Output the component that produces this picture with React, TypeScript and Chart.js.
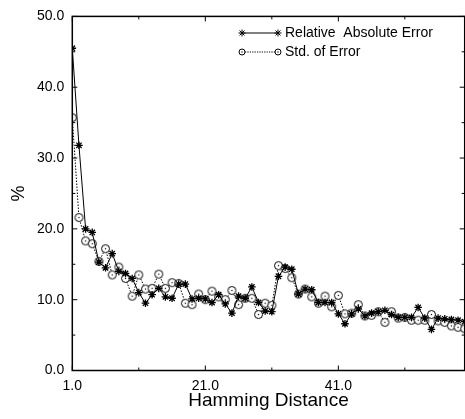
import React, { useEffect, useRef } from "react";
import { Chart, registerables } from "chart.js";

Chart.register(...registerables);

const hamming = [
  1, 2, 3, 4, 5, 6, 7, 8, 9, 10, 11, 12, 13, 14, 15, 16, 17, 18, 19, 20,
  21, 22, 23, 24, 25, 26, 27, 28, 29, 30, 31, 32, 33, 34, 35, 36, 37, 38, 39, 40,
  41, 42, 43, 44, 45, 46, 47, 48, 49, 50, 51, 52, 53, 54, 55, 56, 57, 58, 59, 60,
];

const relAbsError = [
  45.5, 31.8, 20.0, 19.5, 15.3, 14.5, 16.5, 14.0, 13.7, 13.0,
  11.0, 9.5, 10.7, 11.6, 10.4, 10.2, 12.2, 12.2, 10.1, 10.2,
  10.1, 9.6, 10.7, 9.4, 8.1, 10.5, 10.2, 11.8, 9.6, 8.4,
  8.3, 13.3, 14.6, 14.3, 10.8, 11.5, 11.4, 9.6, 9.6, 9.6,
  8.0, 6.6, 8.0, 8.7, 7.7, 8.1, 8.3, 8.5, 7.9, 7.5,
  7.5, 7.5, 8.9, 7.4, 5.8, 7.4, 7.3, 7.2, 7.1, 6.9,
];

const stdError = [
  35.7, 21.6, 18.3, 17.9, 15.4, 17.2, 13.5, 14.6, 13.0, 10.5,
  13.5, 11.5, 11.6, 13.6, 11.6, 12.4, 12.3, 9.5, 9.3, 10.8,
  10.0, 11.2, 10.4, 10.0, 11.3, 9.3, 10.2, 10.2, 7.9, 9.5,
  9.2, 14.8, 14.4, 13.1, 10.8, 11.5, 10.4, 9.5, 10.5, 9.0,
  10.6, 8.0, 8.1, 9.3, 7.7, 7.8, 8.3, 6.8, 8.3, 7.4,
  7.5, 7.1, 7.1, 7.1, 7.9, 7.0, 6.8, 6.3, 6.1, 5.9,
];

const seriesNames = ["Relative  Absolute Error", "Std. of Error"];
const xTickValues = [1, 21, 41];
const xMinorTicks = [11, 31, 51];
const yTickValues = [0, 10, 20, 30, 40, 50];
const yMinorTicks = [5, 15, 25, 35, 45];

const FONT = '"Liberation Sans", Arial, Helvetica, sans-serif';

function makeCircleStyle(r: number): HTMLCanvasElement {
  const size = Math.ceil(r * 2 + 3);
  const c = document.createElement("canvas");
  c.width = size;
  c.height = size;
  const ctx = c.getContext("2d")!;
  ctx.fillStyle = "#fff";
  ctx.strokeStyle = "#000";
  ctx.lineWidth = 1;
  ctx.beginPath();
  ctx.arc(size / 2, size / 2, r, 0, Math.PI * 2);
  ctx.fill();
  ctx.stroke();
  ctx.fillStyle = "#000";
  ctx.fillRect(size / 2 - 0.6, size / 2 - 0.6, 1.2, 1.2);
  return c;
}

function drawStar(ctx: CanvasRenderingContext2D, x: number, y: number, r: number) {
  ctx.beginPath();
  for (let i = 0; i < 4; i++) {
    const a = (i * Math.PI) / 4;
    ctx.moveTo(x - Math.cos(a) * r, y - Math.sin(a) * r);
    ctx.lineTo(x + Math.cos(a) * r, y + Math.sin(a) * r);
  }
  ctx.stroke();
}

const framePlugin = {
  id: "frame",
  afterDraw(chart: any) {
    const { ctx, chartArea: a, scales } = chart;
    const xs = scales.x;
    const ys = scales.y;
    ctx.save();
    ctx.strokeStyle = "#000";
    ctx.lineWidth = 1.5;
    ctx.strokeRect(a.left, a.top, a.right - a.left, a.bottom - a.top);
    ctx.lineWidth = 1;
    const tickX = (v: number, len: number) => {
      const px = xs.getPixelForValue(v);
      ctx.beginPath();
      ctx.moveTo(px, a.bottom);
      ctx.lineTo(px, a.bottom - len);
      ctx.moveTo(px, a.top);
      ctx.lineTo(px, a.top + len);
      ctx.stroke();
    };
    const tickY = (v: number, len: number) => {
      const py = ys.getPixelForValue(v);
      ctx.beginPath();
      ctx.moveTo(a.left, py);
      ctx.lineTo(a.left + len, py);
      ctx.moveTo(a.right, py);
      ctx.lineTo(a.right - len, py);
      ctx.stroke();
    };
    xTickValues.forEach((v) => tickX(v, 5));
    xMinorTicks.forEach((v) => tickX(v, 3));
    yTickValues.forEach((v) => tickY(v, 5));
    yMinorTicks.forEach((v) => tickY(v, 3));

    // legend
    const lx0 = 242;
    const lx1 = 278;
    const tx = 285;
    const r1 = 33;
    const r2 = 52;
    ctx.strokeStyle = "#000";
    ctx.lineWidth = 1;
    ctx.beginPath();
    ctx.moveTo(lx0, r1);
    ctx.lineTo(lx1, r1);
    ctx.stroke();
    ctx.lineWidth = 1;
    drawStar(ctx, lx0, r1, 3.5);
    drawStar(ctx, lx1, r1, 3.5);
    ctx.setLineDash([1.2, 1.2]);
    ctx.beginPath();
    ctx.moveTo(lx0 + 3, r2);
    ctx.lineTo(lx1 - 3, r2);
    ctx.stroke();
    ctx.setLineDash([]);
    [lx0, lx1].forEach((cx) => {
      ctx.beginPath();
      ctx.arc(cx, r2, 3, 0, Math.PI * 2);
      ctx.fillStyle = "#fff";
      ctx.fill();
      ctx.stroke();
      ctx.fillStyle = "#000";
      ctx.fillRect(cx - 0.6, r2 - 0.6, 1.2, 1.2);
    });
    ctx.fillStyle = "#000";
    ctx.font = `14px ${FONT}`;
    ctx.textBaseline = "middle";
    ctx.textAlign = "left";
    ctx.fillText(seriesNames[0], tx, r1);
    ctx.fillText(seriesNames[1], tx, r2);
    ctx.restore();
  },
};

export default function App() {
  const ref = useRef<HTMLCanvasElement | null>(null);

  useEffect(() => {
    if (!ref.current) return;
    const circleStyle = makeCircleStyle(4);
    const chart = new Chart(ref.current, {
      type: "line",
      data: {
        datasets: [
          {
            label: seriesNames[0],
            data: hamming.map((h, i) => ({ x: h, y: relAbsError[i] })),
            borderColor: "#000",
            borderWidth: 1,
            pointStyle: "star",
            pointRadius: 3.8,
            pointBorderWidth: 1.3,
            pointBorderColor: "#000",
            pointBackgroundColor: "#000",
            tension: 0,
            fill: false,
          },
          {
            label: seriesNames[1],
            data: hamming.map((h, i) => ({ x: h, y: stdError[i] })),
            borderColor: "#000",
            borderWidth: 1,
            borderDash: [1.5, 1.5],
            pointStyle: circleStyle as any,
            pointRadius: 4,
            tension: 0,
            fill: false,
          },
        ],
      },
      options: {
        responsive: false,
        maintainAspectRatio: false,
        devicePixelRatio: 1,
        animation: false,
        layout: { padding: { left: 0, top: 11, right: 4.3, bottom: 0 } },
        plugins: {
          legend: { display: false },
          tooltip: { enabled: false },
        },
        scales: {
          x: {
            type: "linear",
            min: 1,
            max: 60,
            afterBuildTicks: (s: any) => {
              s.ticks = xTickValues.map((v) => ({ value: v }));
            },
            afterFit: (s: any) => {
              s.height = 48.5;
            },
            ticks: {
              callback: (v: any) => Number(v).toFixed(1),
              color: "#000",
              font: { family: FONT, size: 14 },
              padding: 7,
              maxRotation: 0,
              autoSkip: false,
            },
            grid: { display: false, drawTicks: false },
            border: { display: false },
            title: {
              display: true,
              text: "Hamming Distance",
              color: "#000",
              font: { family: FONT, size: 19 },
              padding: { top: 0, bottom: 7 },
            },
          },
          y: {
            type: "linear",
            min: 0,
            max: 50,
            afterBuildTicks: (s: any) => {
              s.ticks = yTickValues.map((v) => ({ value: v }));
            },
            afterFit: (s: any) => {
              s.width = 72.3;
            },
            ticks: {
              callback: (v: any) => Number(v).toFixed(1),
              color: "#000",
              font: { family: FONT, size: 14 },
              padding: 8,
              autoSkip: false,
            },
            grid: { display: false, drawTicks: false },
            border: { display: false },
            title: {
              display: true,
              text: "%",
              color: "#000",
              font: { family: FONT, size: 18 },
              padding: { top: 8, bottom: 0 },
            },
          },
        },
      },
      plugins: [framePlugin],
    } as any);
    return () => chart.destroy();
  }, []);

  return (
    <div
      style={{
        position: "absolute",
        left: 0,
        top: 0,
        width: 465,
        height: 419,
        overflow: "hidden",
        background: "#fff",
      }}
    >
      <canvas
        ref={ref}
        width={470}
        height={419}
        style={{ display: "block", width: 470, height: 419 }}
      />
    </div>
  );
}
